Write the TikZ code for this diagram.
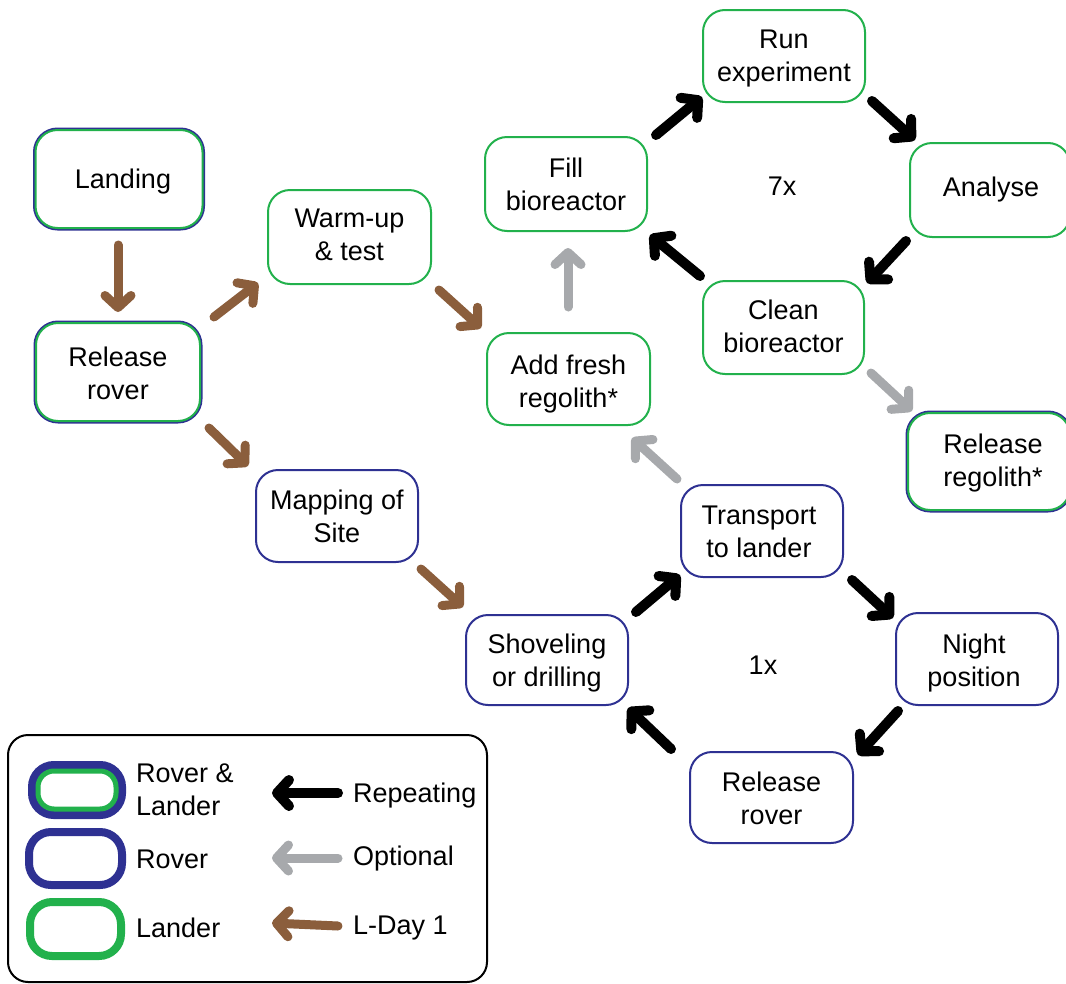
\documentclass[tikz,border=0pt]{standalone}
\usepackage{fontspec}
\setmainfont{Liberation Sans}
\usetikzlibrary{arrows.meta}
\definecolor{lgreen}{RGB}{34,177,76}
\definecolor{rblue}{RGB}{46,49,146}
\definecolor{lbrown}{RGB}{139,94,60}
\definecolor{lgray}{RGB}{167,169,172}
\begin{document}
\begin{tikzpicture}[x=1pt,y=-1pt,
  txt/.style={font=\fontsize{27}{33}\selectfont},
  box/.style={rectangle, rounded corners=22pt, fill=white, inner sep=0pt, outer sep=0pt, line width=2pt},
  btxt/.style={txt, align=center, inner sep=0pt},
  sz/.style 2 args={minimum width=#1pt, minimum height=#2pt},
  landerbox/.style={box, draw=lgreen},
  roverbox/.style={box, draw=rblue},
  bothbox/.style={box, draw=lgreen, preaction={draw=rblue, line width=5pt}},
  arr/.style={line width=10pt, line cap=round, line join=round, -{Straight Barb[round, length=12pt, width=26pt]}},
  blk/.style={arr, draw=black},
  gry/.style={arr, draw=lgray, line width=9pt},
  brn/.style={arr, draw=lbrown, line width=9pt},
  lbl/.style={txt, inner sep=0pt, anchor=west}
]
\useasboundingbox (0,0) rectangle (1066,983);
\clip (0,0) rectangle (1066,983);

% boxes
\node[bothbox, sz={167}{98}] (land) at (119,179) {};
\node[bothbox, sz={164}{98}] (rel1) at (118,372) {};
\node[landerbox, sz={163}{94}] (warm) at (349.5,237) {};
\node[roverbox, sz={162}{92}] (map) at (337,516) {};
\node[landerbox, sz={163}{92}] (add) at (568.5,379) {};
\node[landerbox, sz={162}{94}] (fill) at (566,184) {};
\node[landerbox, sz={162}{92}] (run) at (784,56) {};
\node[landerbox, sz={160}{94}] (anal) at (990,190) {};
\node[landerbox, sz={161}{93}] (clean) at (783.5,327.5) {};
\node[bothbox, sz={162}{97}] (relreg) at (989,461.5) {};
\node[roverbox, sz={162}{92}] (trans) at (762,531) {};
\node[roverbox, sz={162}{90}] (shov) at (547,660) {};
\node[roverbox, sz={162}{92}] (night) at (977,659) {};
\node[roverbox, sz={163}{91}] (relrov) at (771.5,797.5) {};

% box texts
\node[btxt] (landT) at ([shift={(4,3)}]land.center) {Landing};
\node[btxt] (rel1T) at ([shift={(0,1)}]rel1.center) {Release\\rover};
\node[btxt] (warmT) at ([shift={(0,-2)}]warm.center) {Warm-up\\\& test};
\node[btxt] (mapT) at (map.center) {Mapping of\\Site};
\node[btxt] (addT) at ([shift={(0,5)}]add.center) {Add fresh\\regolith*};
\node[btxt] (fillT) at (fill.center) {Fill\\bioreactor};
\node[btxt] (runT) at ([shift={(0,3)}]run.center) {Run\\experiment};
\node[btxt] (analT) at ([shift={(1,0)}]anal.center) {Analyse};
\node[btxt] (cleanT) at ([shift={(0,-1)}]clean.center) {Clean\\bioreactor};
\node[btxt] (relregT) at ([shift={(4,2)}]relreg.center) {Release\\regolith*};
\node[btxt] (transT) at ([shift={(-3,1)}]trans.center) {Transport\\to lander};
\node[btxt] (shovT) at ([shift={(0,3)}]shov.center) {Shoveling\\or drilling};
\node[btxt] (nightT) at ([shift={(-3,4)}]night.center) {Night\\position};
\node[btxt] (relrovT) at ([shift={(0,0.5)}]relrov.center) {Release\\rover};

\node[txt, inner sep=0pt] (seven) at (782,186) {7x};
\node[txt, inner sep=0pt] (one) at (763,665) {1x};

% connectors
\draw[brn] ([shift={(-1,17)}]land.south) -- ([shift={(0,-11)}]rel1.north);
\draw[brn] ([shift={(14,-6)}]rel1.north east) -- ([shift={(-10,-1)}]warm.south west);
\draw[brn] ([shift={(8,6)}]warm.south east) -- ([shift={(-6,-5)}]add.north west);
\draw[brn] ([shift={(9,7)}]rel1.south east) -- ([shift={(-8,-4)}]map.north west);
\draw[brn] ([shift={(3,7)}]map.south east) -- ([shift={(-3,-8)}]shov.north west);
\draw[gry] ([shift={(-0.5,-26)}]add.north) -- ([shift={(2,17)}]fill.south);
\draw[blk] ([shift={(9,-2)}]fill.north east) -- ([shift={(-1,-5)}]run.south west);
\draw[blk] ([shift={(7,-1)}]run.south east) -- ([shift={(5,-3)}]anal.north west);
\draw[blk] ([shift={(-4,4)}]anal.south west) -- ([shift={(3,2)}]clean.north east);
\draw[blk] ([shift={(-3,-5)}]clean.north west) -- ([shift={(3,4)}]fill.south east);
\draw[gry] ([shift={(7,-1)}]clean.south east) -- ([shift={(4,-2)}]relreg.north west);
\draw[gry] ([shift={(-4,-6)}]trans.north west) -- ([shift={(-18,13)}]add.south east);
\draw[blk] ([shift={(8,-3)}]shov.north east) -- ([shift={(-1,-2)}]trans.south west);
\draw[blk] ([shift={(9,3)}]trans.south east) -- ([shift={(-3,5)}]night.north west);
\draw[blk] ([shift={(2,6)}]night.south west) -- ([shift={(5,3)}]relrov.north east);
\draw[blk] ([shift={(-19,-3)}]relrov.north west) -- ([shift={(0,3)}]shov.south east);

% legend
\node[draw=black, line width=2pt, rounded corners=20pt, sz={479}{247}, inner sep=0pt, outer sep=0pt] (legend) at (247.5,858.5) {};
\node[rectangle, rounded corners=16pt, sz={78}{38}, inner sep=0pt, draw=lgreen, line width=5pt, fill=white, preaction={draw=rblue, line width=20pt}] (legRL) at (77,790) {};
\node[rectangle, rounded corners=22pt, sz={93}{53}, inner sep=0pt, draw=rblue, line width=8pt] (legR) at (75.5,858.5) {};
\node[rectangle, rounded corners=22pt, sz={91}{54}, inner sep=0pt, draw=lgreen, line width=8pt] (legL) at (75.5,929) {};
\node[lbl, align=left] (legRLt) at (136,790) {Rover \&\\Lander};
\node[lbl] (legRt) at (136,859) {Rover};
\node[lbl] (legLt) at (136,928) {Lander};
\node[lbl] (rpt) at (353,796) {Repeating};
\node[lbl] (opt) at (353,859) {Optional};
\node[lbl] (lday) at (353,928) {L-Day 1};
\coordinate (rptTip) at (272,793);
\coordinate (optTip) at (272,858);
\coordinate (ldayTip) at (272,923);
\draw[blk] ([shift={(-15,-3)}]rpt.west) -- (rptTip);
\draw[gry] ([shift={(-15,-1)}]opt.west) -- (optTip);
\draw[brn] ([shift={(-15,-2)}]lday.west) -- (ldayTip);
\end{tikzpicture}
\end{document}
